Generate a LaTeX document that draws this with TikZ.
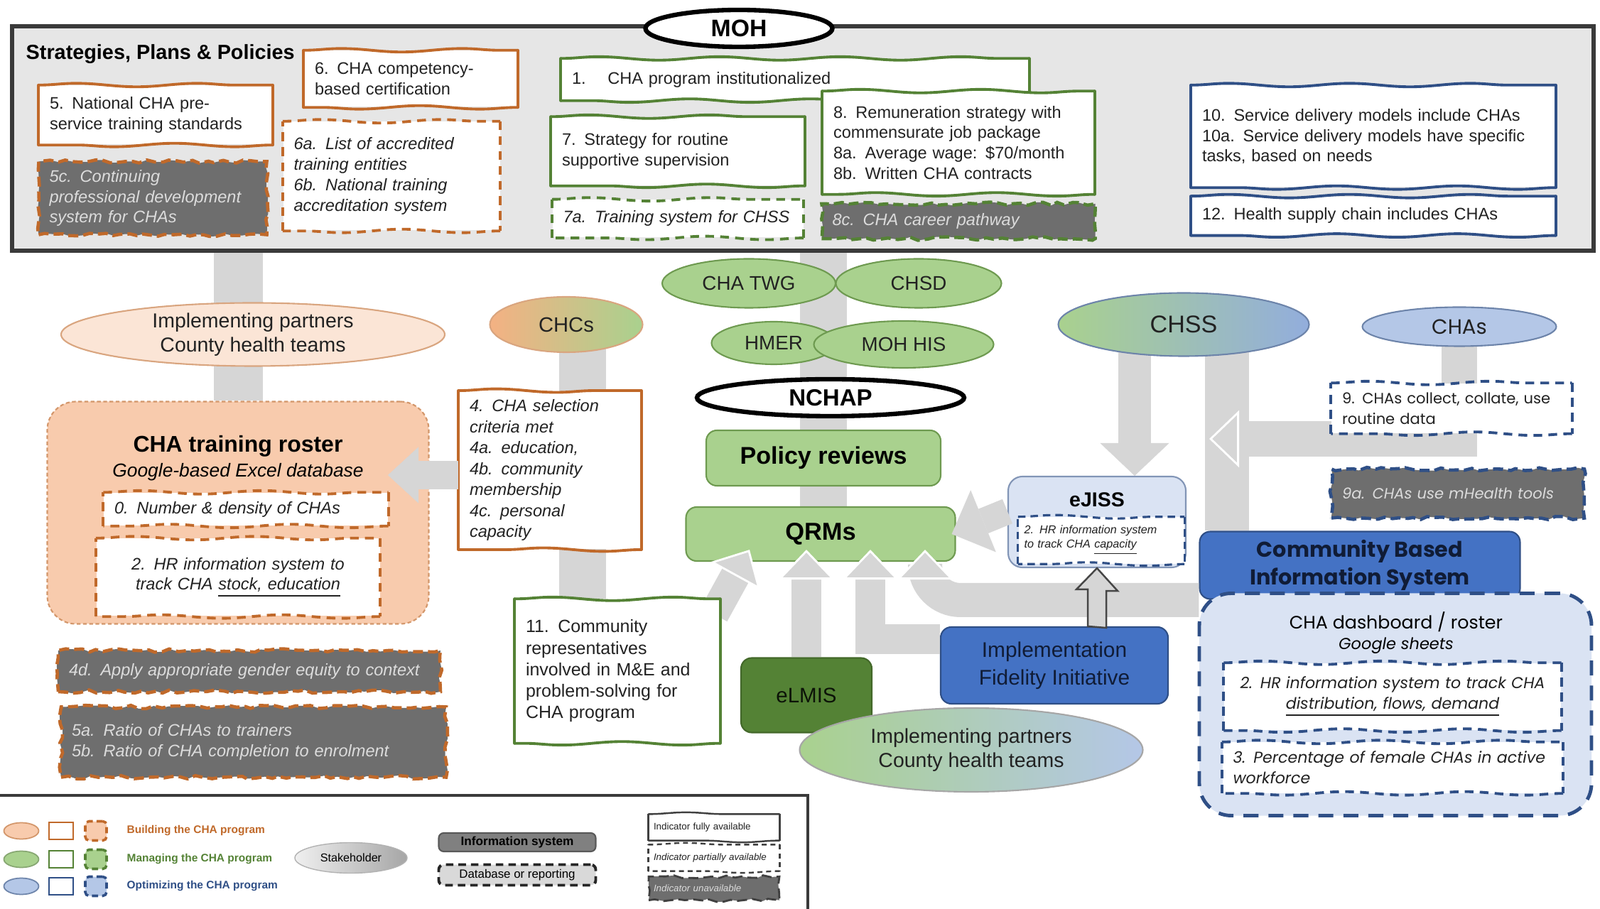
\documentclass[tikz,border=0pt]{standalone}
\usepackage{fontspec}
\setmainfont{Liberation Sans}
\newfontfamily\gothic{Poppins}
\usetikzlibrary{shapes.geometric, arrows.meta, positioning, calc, decorations.pathmorphing, backgrounds}

% colours of the three program phases
\definecolor{bldF}{HTML}{F8CBAD}
\definecolor{bldL}{HTML}{C0692A}
\definecolor{bldMid}{HTML}{F4B183}
\definecolor{bldPale}{HTML}{FBE5D6}
\definecolor{mngF}{HTML}{A9D18E}
\definecolor{mngL}{HTML}{548235}
\definecolor{mngEdge}{HTML}{6E9A50}
\definecolor{optF}{HTML}{B4C7E7}
\definecolor{optL}{HTML}{2F4F86}
\definecolor{optPale}{HTML}{DAE3F3}
\definecolor{optMid}{HTML}{4472C4}
\definecolor{navy}{HTML}{101C36}
\definecolor{bandgrey}{HTML}{D6D6D6}
\definecolor{mohgrey}{HTML}{E6E6E6}
\definecolor{frame}{HTML}{3A3A3A}
\definecolor{nagrey}{HTML}{6E6E6E}
\definecolor{natext}{HTML}{DCDCDC}
\definecolor{ink}{HTML}{222222}

\newcommand{\bodysize}{\fontsize{6.7}{8.2}\selectfont}

% hand drawn frame: wavy top and bottom, straight sides
\tikzset{
  wavyline/.style={decorate, decoration={snake, segment length=1.7cm, amplitude=0.7pt}},
  wavyedge/.style={append after command={
      (\tikzlastnode.north west) edge[wavyline, #1] (\tikzlastnode.north east)
      (\tikzlastnode.north east) edge[#1] (\tikzlastnode.south east)
      (\tikzlastnode.south east) edge[wavyline, #1] (\tikzlastnode.south west)
      (\tikzlastnode.south west) edge[#1] (\tikzlastnode.north west)}},
  solidedge/.style={wavyedge={draw=#1, line width=1.1pt, line cap=round}},
  dashedge/.style={wavyedge={draw=#1, line width=1.1pt, dash pattern=on 3.5pt off 2.5pt}}
}

\begin{document}
\begin{tikzpicture}[x=1cm, y=-1cm]
        \tikzstyle{ragged} = [decorate, decoration={random steps, segment length=3pt, amplitude=0.7pt}]
        \tikzstyle{fullbox} = [rectangle, fill=white, font=\bodysize, text=ink, inner xsep=0.15cm, align=left]
        \tikzstyle{partbox} = [fullbox, font=\bodysize\itshape]
        \tikzstyle{nobox} = [rectangle, ragged, line width=1.3pt, dash pattern=on 4pt off 2pt, fill=nagrey, font=\bodysize\itshape, text=natext, inner xsep=0.15cm, align=left]
        \tikzstyle{oval} = [ellipse, inner sep=0pt, line width=0.6pt, text=ink, align=center]
        \tikzstyle{boldoval} = [ellipse, inner sep=0pt, draw=black, line width=1.8pt, fill=white]
        \tikzstyle{sysbox} = [rectangle, rounded corners=0.15cm, line width=0.6pt, align=center]
        \tikzstyle{greyband} = [draw=bandgrey, line width=0.45cm]
        \tikzstyle{bandhead} = [-{Triangle[width=0.97cm, length=0.46cm, line width=0.1pt]}]
        \tikzstyle{rimhead} = [-{Triangle[width=0.8cm, length=0.42cm, line width=0.8pt, color=white, fill=bandgrey]}]

        \useasboundingbox (0,0) rectangle (22.52,12.80);

        % MOH frame
        \node (mohbox) [rectangle, draw=frame, line width=1.8pt, fill=mohgrey, minimum width=22.26cm, minimum height=3.16cm] at (11.30,1.95) {};
        \node (moh) [boldoval, minimum width=2.63cm, minimum height=0.52cm, font=\bfseries\fontsize{9.6}{11}\selectfont] at (10.40,0.40) {MOH};
        \node (spp) [anchor=west, inner sep=0pt, font=\bfseries\fontsize{8.2}{10}\selectfont] at (0.36,0.76) {Strategies, Plans \& Policies};

        \node (i5) [fullbox, solidedge=bldL, minimum width=3.28cm, text width=2.98cm, minimum height=0.83cm] at (2.19,1.62) {5. National CHA pre-\\service training standards};
        \node (i6) [fullbox, solidedge=bldL, minimum width=3.0cm, text width=2.7cm, minimum height=0.79cm] at (5.78,1.11) {6. CHA competency-\\based certification};
        \node (i5c) [nobox, draw=bldL, minimum width=3.21cm, text width=2.91cm, minimum height=0.97cm] at (2.15,2.79) {5c. Continuing\\professional development\\system for CHAs};
        \node (i6ab) [partbox, dashedge=bldL, minimum width=3.05cm, text width=2.75cm, minimum height=1.53cm] at (5.51,2.48) {6a. List of accredited\\training entities\\6b. National training\\accreditation system};

        \node (i1) [fullbox, solidedge=mngL, minimum width=6.58cm, text width=6.28cm, minimum height=0.58cm] at (11.19,1.12) {1.\hspace{1.3em}CHA program institutionalized};
        \node (i7) [fullbox, solidedge=mngL, minimum width=3.56cm, text width=3.26cm, minimum height=0.96cm] at (9.54,2.13) {7. Strategy for routine\\supportive supervision};
        \node (i7a) [partbox, dashedge=mngL, minimum width=3.53cm, text width=3.23cm, minimum height=0.53cm, below=0.19cm of i7] {7a. Training system for CHSS};
        \node (i8) [fullbox, solidedge=mngL, minimum width=3.82cm, text width=3.52cm, minimum height=1.44cm] at (13.49,2.01) {8. Remuneration strategy with\\commensurate job package\\8a. Average wage: \$70/month\\8b. Written CHA contracts};
        \node (i8c) [nobox, draw=mngL, minimum width=3.85cm, text width=3.55cm, minimum height=0.49cm, below=0.11cm of i8] {8c. CHA career pathway};

        \node (i10) [fullbox, solidedge=optL, minimum width=5.12cm, text width=4.82cm, minimum height=1.43cm] at (19.33,1.92) {10. Service delivery models include CHAs\\10a. Service delivery models have specific\\tasks, based on needs};
        \node (i12) [fullbox, solidedge=optL, minimum width=5.12cm, text width=4.82cm, minimum height=0.54cm, below=0.12cm of i10] {12. Health supply chain includes CHAs};

        % stakeholders
        \node (chatwg) [oval, fill=mngF, draw=mngEdge, minimum width=2.44cm, minimum height=0.69cm, font=\fontsize{7.9}{9}\selectfont] at (10.54,3.99) {CHA TWG};
        \node (chsd) [oval, fill=mngF, draw=mngEdge, minimum width=2.33cm, minimum height=0.69cm, font=\fontsize{7.9}{9}\selectfont] at (12.93,3.99) {CHSD};
        \node (hmer) [oval, fill=mngF, draw=mngEdge, minimum width=1.75cm, minimum height=0.60cm, font=\fontsize{7.9}{9}\selectfont] at (10.89,4.83) {HMER};
        \node (mohhis) [oval, fill=mngF, draw=mngEdge, minimum width=2.53cm, minimum height=0.66cm, font=\fontsize{7.9}{9}\selectfont] at (12.72,4.85) {MOH HIS};
        \node (chcs) [oval, left color=bldMid, right color=mngF, draw=bldL!60, minimum width=2.15cm, minimum height=0.78cm, font=\fontsize{8.3}{10}\selectfont] at (7.97,4.57) {CHCs};
        \node (impl) [oval, fill=bldPale, draw=bldL!60, minimum width=5.40cm, minimum height=0.89cm, font=\fontsize{8.1}{9.6}\selectfont] at (3.56,4.71) {Implementing partners\\County health teams};
        \node (nchap) [boldoval, minimum width=3.76cm, minimum height=0.52cm, font=\bfseries\fontsize{9.4}{11}\selectfont] at (11.69,5.60) {NCHAP};
        \node (chss) [oval, left color=mngF, right color=optF!70!optMid, draw=optL!70, minimum width=3.53cm, minimum height=0.89cm, font=\fontsize{9.7}{11}\selectfont] at (16.66,4.57) {CHSS};
        \node (chas) [oval, fill=optF, draw=optL!70, minimum width=2.73cm, minimum height=0.55cm, font=\gothic\fontsize{8.3}{10}\selectfont] at (20.54,4.60) {CHAs};

        \node (policy) [sysbox, fill=mngF, draw=mngEdge, minimum width=3.30cm, minimum height=0.78cm, font=\bfseries\fontsize{9.7}{11}\selectfont] at (11.59,6.45) {Policy reviews};
        \node (qrms) [sysbox, fill=mngF, draw=mngEdge, minimum width=3.79cm, minimum height=0.76cm, font=\bfseries\fontsize{9.8}{11}\selectfont] at (11.55,7.52) {QRMs};
        \coordinate (qrmsin) at ([yshift=0.17cm]qrms.south);
        \coordinate (diagfoot) at (10.05,8.65);
        \draw [greyband, line width=0.42cm, rimhead] (diagfoot) -- ([xshift=-1.0cm]qrmsin);

        \node (i4) [fullbox, solidedge=bldL, minimum width=2.56cm, text width=2.26cm, minimum height=2.21cm, font=\fontsize{6.7}{8.4}\selectfont\itshape] at (7.74,6.62) {4. CHA selection\\criteria met\\4a. education,\\4b. community\\membership\\4c. personal\\capacity};

        % training roster
        \node (roster) [rectangle, rounded corners=0.4cm, fill=bldF, draw=bldL!70, line width=0.6pt, dash pattern=on 1.5pt off 1pt, minimum width=5.37cm, minimum height=3.13cm] at (3.35,7.22) {};
        \node (rtitle) [inner sep=0pt, font=\bfseries\fontsize{9.1}{11}\selectfont] at (3.35,6.28) {CHA training roster};
        \node (rsub) [inner sep=0pt, font=\itshape\fontsize{7.5}{9}\selectfont] at (3.35,6.65) {Google-based Excel database};
        \node (r0) [partbox, dashedge=bldL, minimum width=4.0cm, text width=3.7cm, minimum height=0.46cm] at (3.46,7.17) {0. Number \& density of CHAs};
        \node (r2) [partbox, dashedge=bldL, minimum width=3.99cm, text width=3.69cm, minimum height=1.09cm, align=center] at (3.35,8.13) {2. HR information system to\\track CHA \underline{stock, education}};
        \node (i4d) [nobox, draw=bldL, minimum width=5.38cm, text width=5.08cm, minimum height=0.58cm] at (3.51,9.45) {4d. Apply appropriate gender equity to context};
        \node (i5ab) [nobox, draw=bldL, minimum width=5.42cm, text width=5.12cm, minimum height=0.99cm] at (3.57,10.45) {5a. Ratio of CHAs to trainers\\5b. Ratio of CHA completion to enrolment};

        \node (i11) [fullbox, solidedge=mngL, minimum width=2.88cm, text width=2.58cm, minimum height=2.02cm, font=\fontsize{7.1}{8.6}\selectfont] at (8.69,9.45) {11. Community\\representatives\\involved in M\&E and\\problem-solving for\\CHA program};

        \node (elmis) [sysbox, fill=mngL, draw=mngL!80!black, minimum width=1.84cm, minimum height=1.05cm, text=black!85!mngL, font=\fontsize{8.4}{10}\selectfont] at (11.35,9.79) {eLMIS};
        \node (ifi) [sysbox, fill=optMid, draw=optL, minimum width=3.20cm, minimum height=1.08cm, text=navy, font=\fontsize{8.5}{11.2}\selectfont] at (14.84,9.37) {Implementation\\Fidelity Initiative};
        \node (impl2) [oval, left color=mngF, right color=optF, draw=gray!70, minimum width=4.83cm, minimum height=1.18cm, font=\fontsize{8.1}{9.8}\selectfont] at (13.67,10.56) {Implementing partners\\County health teams};

        % eJISS
        \node (ejiss) [sysbox, rounded corners=0.2cm, fill=optPale, draw=optL!60, minimum width=2.50cm, minimum height=1.28cm] at (15.44,7.35) {};
        \node (ejisst) [inner sep=0pt, font=\bfseries\fontsize{8.1}{10}\selectfont] at (15.44,7.04) {eJISS};
        \node (ejissin) [partbox, wavyedge={draw=optL, line width=0.9pt, dash pattern=on 3pt off 2pt}, minimum width=2.33cm, text width=2.17cm, inner xsep=0.08cm, minimum height=0.52cm, font=\fontsize{4.6}{5.6}\selectfont\itshape] at (15.50,7.61) {2. HR information system\\to track CHA \underline{capacity}};

        % community based information system
        \node (cbis) [sysbox, fill=optMid, draw=optL, minimum width=4.51cm, minimum height=0.87cm, text=navy, font=\gothic\bfseries\fontsize{8.6}{11.2}\selectfont] at (19.14,7.96) {Community Based\\Information System};
        \node (cbisdb) [rectangle, rounded corners=0.45cm, fill=optPale, draw=optL, line width=1.4pt, dash pattern=on 6pt off 4pt, minimum width=5.52cm, minimum height=3.13cm] at (19.64,9.92) {};
        \node (cbisname) [inner sep=0pt, font=\gothic\fontsize{7.2}{9}\selectfont] at (19.65,8.76) {CHA dashboard / roster};
        \node (cbissub) [inner sep=0pt, font=\gothic\itshape\fontsize{6.4}{8}\selectfont] at (19.65,9.09) {Google sheets};
        \node (c2) [partbox, dashedge=optL, minimum width=4.74cm, text width=4.44cm, minimum height=0.94cm, align=center, font=\gothic\itshape\fontsize{6.3}{8.2}\selectfont] at (19.60,9.81) {2. HR information system to track CHA\\\underline{distribution, flows, demand}};
        \node (c3) [partbox, dashedge=optL, minimum width=4.79cm, text width=4.49cm, minimum height=0.71cm, font=\gothic\itshape\fontsize{6.3}{8.2}\selectfont] at (19.60,10.81) {3. Percentage of female CHAs in active\\workforce};
        \node (i9) [partbox, dashedge=optL, minimum width=3.38cm, text width=3.08cm, minimum height=0.70cm, font=\gothic\fontsize{6}{8.2}\selectfont] at (20.43,5.75) {9. CHAs collect, collate, use\\routine data};
        \node (i9a) [nobox, draw=optL, minimum width=3.56cm, text width=3.26cm, minimum height=0.69cm, font=\gothic\itshape\fontsize{6}{8}\selectfont] at (20.52,6.95) {9a. CHAs use mHealth tools};

        % grey flows behind the nodes
        \coordinate (chcline) at (8.20,4.57);
        \coordinate (chssL) at ([xshift=-0.69cm]chss.center);
        \coordinate (chssR) at ([xshift=0.61cm]chss.center);
        \coordinate (chastip) at (17.02,6.18);
        \begin{scope}[on background layer]
          \draw [greyband, line width=0.69cm] (roster.north) -- (roster.north |- mohbox.south);
          \draw [greyband, line width=0.66cm] (policy.north |- mohbox.south) -- (policy.north |- qrms.north);
          \draw [greyband, line width=0.66cm] (chcline) -- (chcline |- i11.north);
          \draw [greyband, line width=0.46cm, bandhead] (chssL) -- (chssL |- ejiss.north);
          \draw [greyband, line width=0.62cm] (chssR) -- (chssR |- cbis.north);
          \draw [greyband, line width=0.5cm, rimhead] (chas.center) |- (chastip);
        \end{scope}

        % grey flows into QRMs and the roster
        \coordinate (rostertip) at (5.46,6.69);
        \coordinate (ifiturn) at (12.25,9.0);
        \coordinate (uturn) at (13.02,8.45);
        \draw [greyband, line width=0.40cm, -{Triangle[width=0.79cm, length=0.43cm, line width=0.1pt]}] (i4.west |- rostertip) -- (rostertip);
        \draw [greyband, line width=0.37cm, -{Triangle[width=0.94cm, length=0.48cm, line width=0.1pt]}] ([yshift=0.15cm]ejiss.west) -- ([xshift=-0.06cm]qrms.east);
        \draw [greyband, line width=0.42cm, rimhead] (elmis.north) -- (elmis.north |- qrmsin);
        \draw [greyband, line width=0.42cm, rimhead] (ifi.west |- ifiturn) -- (ifiturn) -- (ifiturn |- qrmsin);
        \draw [greyband, line width=0.48cm, rounded corners=0.5cm, rimhead] (cbis.west |- uturn) -- (uturn) -- (uturn |- qrmsin);
        \draw [fill=bandgrey, draw=gray!55!black, line width=0.7pt] ($(ejiss.south |- ifi.north)+(-0.13,0)$) -- ++(0,-0.52) -- ++(-0.16,0) -- (ejiss.south) -- ++(0.29,0.32) -- ++(-0.16,0) -- ++(0,0.52) -- cycle;

        % legend
        \draw [draw=frame, line width=1pt] (0,11.20) -- (11.37,11.20) -- (11.37,12.80);
        \foreach \f/\l/\y/\lab [count=\i] in {bldF/bldL/11.70/Building the CHA program, mngF/mngL/12.10/Managing the CHA program, optF/optL/12.48/Optimizing the CHA program} {
          \node (lgoval\i) [ellipse, fill=\f, draw=\l!70, line width=0.5pt, minimum width=0.49cm, minimum height=0.23cm, inner sep=0pt] at (0.30,\y) {};
          \node (lgbox\i) [rectangle, draw=\l, line width=0.6pt, fill=white, minimum width=0.34cm, minimum height=0.24cm, inner sep=0pt] at (0.86,\y) {};
          \node (lgsys\i) [rectangle, rounded corners=1.5pt, fill=\f, draw=\l, line width=1pt, dash pattern=on 2.5pt off 1.5pt, minimum width=0.30cm, minimum height=0.27cm, inner sep=0pt] at (1.35,\y) {};
          \node (lgtxt\i) [anchor=west, inner sep=0pt, text=\l, font=\bfseries\fontsize{4.4}{5}\selectfont] at (1.78,\y) {\lab};
        }
        \node (lgstake) [ellipse, left color=gray!12, right color=gray!70, draw=gray!60, minimum width=1.58cm, minimum height=0.43cm, inner sep=0pt, font=\fontsize{4.6}{5.5}\selectfont] at (4.94,12.08) {Stakeholder};
        \node (lginfo) [sysbox, rounded corners=2pt, fill=gray, draw=gray!70!black, minimum width=2.21cm, minimum height=0.26cm, inner sep=0pt, font=\bfseries\fontsize{4.9}{5.5}\selectfont] at (7.28,11.86) {Information system};
        \node (lgdb) [sysbox, rounded corners=2pt, fill=gray!30, draw=gray!30!black, line width=1.1pt, dash pattern=on 3pt off 2pt, minimum width=2.21cm, minimum height=0.29cm, inner sep=0pt, font=\fontsize{4.8}{5.5}\selectfont] at (7.28,12.32) {Database or reporting};
        \node (lgfull) [fullbox, wavyedge={draw=gray!50!black, line width=0.7pt}, minimum width=1.84cm, text width=1.70cm, inner xsep=0.07cm, minimum height=0.32cm, font=\fontsize{3.8}{4.5}\selectfont] at (10.05,11.65) {Indicator fully available};
        \node (lgpart) [partbox, wavyedge={draw=gray!50!black, line width=0.7pt, dash pattern=on 2pt off 1.5pt}, minimum width=1.84cm, text width=1.70cm, inner xsep=0.07cm, minimum height=0.32cm, font=\fontsize{3.8}{4.5}\selectfont\itshape] at (10.05,12.08) {Indicator partially available};
        \node (lgna) [nobox, draw=gray!50!black, line width=0.8pt, minimum width=1.84cm, text width=1.70cm, inner xsep=0.07cm, minimum height=0.32cm, font=\fontsize{3.8}{4.5}\selectfont\itshape] at (10.05,12.51) {Indicator unavailable};
    \end{tikzpicture}
\end{document}
